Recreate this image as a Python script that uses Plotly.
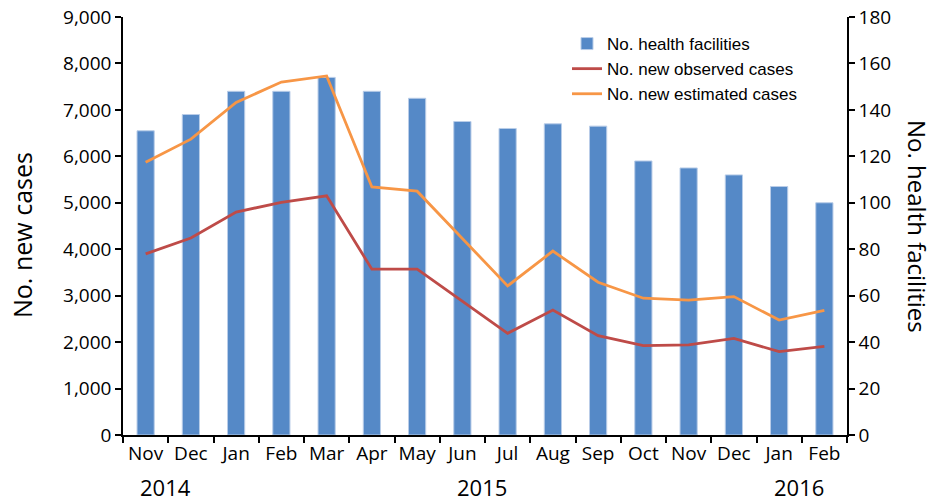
import plotly.graph_objects as go

months = ["Nov", "Dec", "Jan", "Feb", "Mar", "Apr", "May", "Jun",
          "Jul", "Aug", "Sep", "Oct", "Nov", "Dec", "Jan", "Feb"]
cats = [f"{m}_{i}" for i, m in enumerate(months)]
facilities = [131, 138, 148, 148, 154, 148, 145, 135, 132, 134, 133, 118, 115, 112, 107, 100]
observed = [3900, 4240, 4800, 5010, 5150, 3570, 3570, 2880, 2190, 2690, 2140, 1925, 1940, 2080, 1795, 1910]
estimated = [5870, 6370, 7160, 7600, 7730, 5340, 5250, 4230, 3210, 3960, 3290, 2945, 2905, 2980, 2475, 2685]
left_ticks = list(range(0, 9001, 1000))
right_ticks = list(range(0, 181, 20))
years = ["2014", "2015", "2016"]

FONT = "Open Sans"
LFONT = "Liberation Sans"
L, R, T, B = 123, 89, 17, 69
W, H = 936, 504
pw, ph = W - L - R, H - T - B

fig = go.Figure()
fig.add_trace(go.Bar(x=cats, y=facilities, name="No. health facilities",
                     marker=dict(color="#5589C7", line=dict(color="#B9CDE8", width=1)),
                     width=0.38, yaxis="y"))
fig.add_trace(go.Scatter(x=cats, y=observed, name="No. new observed cases", mode="lines",
                         line=dict(color="#BE4B48", width=2.8), yaxis="y2"))
fig.add_trace(go.Scatter(x=cats, y=estimated, name="No. new estimated cases", mode="lines",
                         line=dict(color="#F79646", width=2.8), yaxis="y2"))

axis_common = dict(showgrid=False, zeroline=False, showline=True, linecolor="black",
                   linewidth=1.5, ticks="outside", ticklen=6, tickcolor="black", tickwidth=1.5,
                   automargin=False,
                   tickfont=dict(family=FONT, size=19, color="black"))

fig.update_layout(
    width=W, height=H,
    margin=dict(l=L, r=R, t=T, b=B, pad=0, autoexpand=False),
    plot_bgcolor="white", paper_bgcolor="white",
    xaxis=dict(**axis_common, tickmode="array", tickvals=cats, ticktext=months,
               tickangle=0, tickson="boundaries", range=[-0.5, len(cats) - 0.5]),
    yaxis=dict(**axis_common, side="right", range=[0, 180], tickvals=right_ticks,
               ticktext=[str(v) for v in right_ticks]),
    yaxis2=dict(**axis_common, side="left", overlaying="y", range=[0, 9000],
                tickvals=left_ticks, ticktext=[f"{v:,}" for v in left_ticks]),
    showlegend=True,
    legend=dict(x=(567 - L) / pw, y=1 - (26 - T) / ph, xanchor="left", yanchor="top",
                bgcolor="rgba(0,0,0,0)", font=dict(family=LFONT, size=17, color="black"),
                traceorder="normal", itemwidth=30, tracegroupgap=0),
    annotations=[
        dict(text="No. new cases", x=22, y=235, showarrow=False,
             textangle=-90, font=dict(family=FONT, size=25, color="black")),
        dict(text="No. health facilities", x=918, y=226, showarrow=False,
             textangle=90, font=dict(family=FONT, size=24, color="black")),
    ] + [
        dict(text=yr, x=xp, y=487, showarrow=False,
             font=dict(family=FONT, size=22, color="black"))
        for yr, xp in zip(years, [165, 482, 799])
    ],
)

# convert pixel positions of annotations to paper coords
for a in fig.layout.annotations:
    a.xref = "paper"
    a.yref = "paper"
    a.xanchor = "center"
    a.yanchor = "middle"
    a.x = (a.x - L) / pw
    a.y = 1 - (a.y - T) / ph

fig.write_html("out.html", config={"displayModeBar": False},
               post_script="document.body.style.margin='0';document.body.style.padding='0';")
